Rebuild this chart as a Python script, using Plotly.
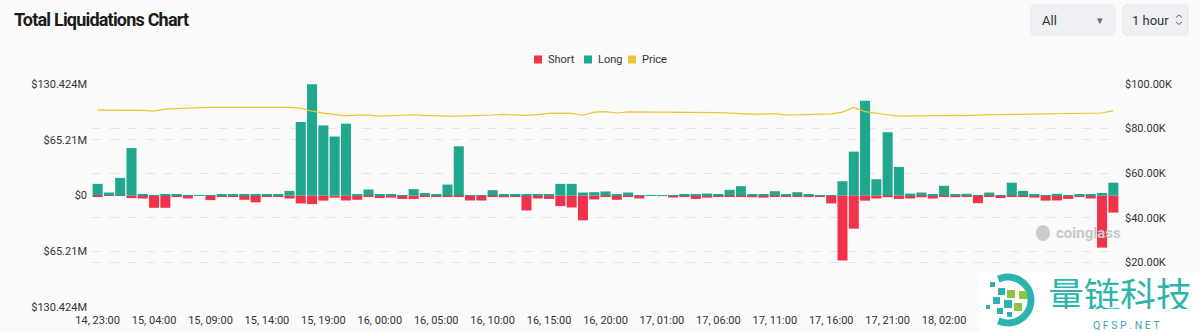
import math
import pandas as pd
import plotly.graph_objects as go

# ---------------- data ----------------
hours = [t.strftime("%Y-%m-%d %H:%M") for t in pd.date_range("2024-11-14 23:00", periods=91, freq="h")]

long_vals = [13.6, 3.5, 20.6, 55.5, 1.0, 0.3, 1.6, 1.5, 0.5, 0.5,
             0.3, 1.0, 1.0, 1.0, 1.5, 1.5, 1.5, 5.4, 86.0, 130.0,
             82.0, 69.0, 84.0, 1.6, 7.0, 1.2, 1.6, 0.5, 7.4, 3.0,
             1.0, 12.8, 57.5, 0.3, 0.3, 6.2, 1.0, 0.8, 1.0, 1.0,
             1.5, 13.6, 13.6, 3.5, 3.9, 4.7, 1.0, 3.5, 0.5, 0.5,
             0.5, 0.3, 1.6, 1.0, 2.3, 1.5, 6.6, 10.9, 1.0, 1.5,
             5.0, 1.6, 3.9, 0.8, 0.3, 0.2, 16.7, 51.3, 110.7, 19.0,
             74.0, 33.4, 2.3, 3.5, 1.6, 11.3, 0.6, 2.0, 0.3, 3.5,
             0.5, 15.0, 5.4, 1.0, 0.5, 2.0, 0.3, 1.0, 1.6, 3.0,
             15.0]

short_vals = [1.0, 0.5, 0.5, 3.0, 3.5, 14.4, 14.4, 1.5, 3.5, 0.5,
              5.4, 1.5, 1.5, 5.0, 8.0, 1.0, 1.0, 3.5, 9.3, 10.0,
              6.0, 2.5, 5.8, 5.0, 1.5, 3.0, 2.5, 4.0, 4.0, 1.5,
              1.5, 1.5, 1.5, 5.8, 5.8, 1.5, 2.0, 0.8, 17.5, 3.5,
              4.0, 12.4, 14.0, 29.0, 4.6, 1.5, 5.0, 1.5, 3.5, 0.5,
              0.5, 2.3, 1.5, 4.0, 2.5, 1.5, 1.5, 1.5, 2.0, 2.5,
              1.5, 1.5, 1.5, 1.5, 0.8, 9.3, 76.0, 38.8, 6.0, 3.5,
              2.0, 4.0, 3.5, 2.0, 3.5, 1.5, 2.0, 1.5, 9.0, 1.5,
              3.0, 1.5, 1.5, 2.5, 6.0, 5.8, 4.0, 1.5, 3.5, 61.0,
              20.0]

price_vals = [88.3, 88.3, 88.3, 88.3, 88.2, 87.8, 88.7, 89.0, 89.3, 89.4,
              89.5, 89.5, 89.6, 89.6, 89.5, 89.5, 89.5, 89.5, 89.2, 87.8,
              86.9, 86.2, 85.7, 86.0, 86.1, 85.6, 85.9, 86.0, 86.2, 85.9,
              85.6, 85.6, 85.6, 85.7, 85.8, 86.1, 86.4, 86.2, 85.9, 86.3,
              86.8, 86.9, 86.8, 86.0, 87.4, 87.6, 87.0, 87.5, 87.5, 87.4,
              87.4, 87.3, 87.3, 87.2, 87.2, 87.2, 86.9, 86.6, 86.5, 86.5,
              86.7, 86.1, 86.1, 86.3, 86.5, 86.6, 87.4, 89.5, 87.6, 86.8,
              86.2, 85.6, 85.7, 85.7, 85.8, 85.9, 85.9, 85.8, 86.1, 86.3,
              86.3, 86.4, 86.5, 86.5, 86.6, 86.7, 86.9, 86.9, 86.9, 87.0,
              88.1]

# tick labels visible in the reference (later ones are hidden under the watermark)
tick_labels = ["14, 23:00", "15, 04:00", "15, 09:00", "15, 14:00", "15, 19:00",
               "16, 00:00", "16, 05:00", "16, 10:00", "16, 15:00", "16, 20:00",
               "17, 01:00", "17, 06:00", "17, 11:00", "17, 16:00", "17, 21:00",
               "18, 02:00"]

left_tickvals = [-130.424, -65.21, 0, 65.21, 130.424]
left_ticktext = ["$130.424M", "$65.21M", "$0", "$65.21M", "$130.424M"]
right_tickvals = [20, 40, 60, 80, 100]
right_ticktext = ["$20.00K", "$40.00K", "$60.00K", "$80.00K", "$100.00K"]

C_SHORT = "#f0334a"
C_LONG = "#1fa88e"
C_PRICE = "#ecc534"

# ---------------- figure ----------------
fig = go.Figure()
fig.add_trace(go.Bar(x=hours, y=[-v for v in short_vals], name="Short",
                     marker=dict(color=C_SHORT, line=dict(width=0)), showlegend=False))
fig.add_trace(go.Bar(x=hours, y=long_vals, name="Long",
                     marker=dict(color=C_LONG, line=dict(width=0)), showlegend=False))
fig.add_trace(go.Scatter(x=hours, y=price_vals, name="Price", yaxis="y2", mode="lines",
                         line=dict(color=C_PRICE, width=1.2), showlegend=False))

L, R, T, B = 92, 1119, 84, 307
def px(X):
    return (X - L) / (R - L)
def py(Y):
    return (B - Y) / (B - T)

annotations = []
shapes = []

def text(s, X, Y, size, color, xanchor="left", family="Roboto", height=None):
    a = dict(text=s, x=px(X), y=py(Y), xref="paper", yref="paper",
             xanchor=xanchor, yanchor="middle", showarrow=False, borderpad=0,
             font=dict(size=size, color=color, family=family))
    if height:
        a["height"] = height
    annotations.append(a)

def rrect(x0, y0, x1, y1, r, fill, line):
    pts = []
    for cx, cy, a0 in [(x1 - r, y0 + r, -90), (x1 - r, y1 - r, 0), (x0 + r, y1 - r, 90), (x0 + r, y0 + r, 180)]:
        for k in range(7):
            a = math.radians(a0 + k * 15)
            pts.append((cx + r * math.cos(a), cy + r * math.sin(a)))
    p = "M " + " L ".join(f"{px(a):.5f},{py(b):.5f}" for a, b in pts) + " Z"
    shapes.append(dict(type="path", path=p, xref="paper", yref="paper",
                       fillcolor=fill, line=dict(color=line, width=1), layer="above"))

# title
text('<b><span style="letter-spacing:-0.8px">Total Liquidations Chart</span></b>', 13, 19, 18, "#1b1b1b")

# dropdowns
rrect(1031, 5, 1115, 35, 4, "#eef0f4", "#e2e5ea")
rrect(1123, 5, 1188, 35, 4, "#eef0f4", "#e2e5ea")
text("All", 1041, 20, 13, "#333333")
text("▾", 1100, 20, 11, "#666666", xanchor="center")
text("1 hour", 1131, 20, 13, "#333333")
for ys in [(17.5, 15), (22, 24.5)]:
    p = f"M {px(1176):.5f},{py(ys[0]):.5f} L {px(1179):.5f},{py(ys[1]):.5f} L {px(1182):.5f},{py(ys[0]):.5f}"
    shapes.append(dict(type="path", path=p, xref="paper", yref="paper",
                       line=dict(color="#666666", width=1), layer="above"))

# manual legend
for name, color, sx in [("Short", C_SHORT, 534), ("Long", C_LONG, 584), ("Price", C_PRICE, 628)]:
    shapes.append(dict(type="rect", xref="paper", yref="paper", x0=px(sx), x1=px(sx + 8),
                       y0=py(63.5), y1=py(55.5), fillcolor=color, line=dict(width=0), layer="above"))
    text(name, sx + 13, 59.5, 11, "#333333")

# coinglass watermark
shapes.append(dict(type="circle", xref="paper", yref="paper", x0=px(1036), x1=px(1050),
                   y0=py(241), y1=py(225), fillcolor="#cccccc", line=dict(width=0), layer="above"))
text("<b>coinglass</b>", 1055, 233, 15, "#c8c8c8")

# QFSP watermark block
shapes.append(dict(type="rect", xref="paper", yref="paper", x0=px(980), x1=px(1200),
                   y0=py(332), y1=py(272), fillcolor="#ffffff", line=dict(width=0), layer="above"))
arc = []
for k in range(0, 25):
    a = math.radians(-115 + k * 230 / 24)
    arc.append((1008 + 23 * math.cos(a), 300 + 23 * math.sin(a)))
p = "M " + " L ".join(f"{px(a):.5f},{py(b):.5f}" for a, b in arc)
shapes.append(dict(type="path", path=p, xref="paper", yref="paper",
                   line=dict(color="#2cb3ae", width=7), layer="above"))
for (sx, sy, s, c) in [(990, 282, 5, "#2cb3ae"), (998, 288, 7, "#2cb3ae"), (1007, 290, 8, "#8cc63f"),
                       (1019, 291, 8, "#8cc63f"), (993, 297, 7, "#2cb3ae"), (1004, 300, 8, "#2cb3ae"),
                       (1014, 303, 8, "#8cc63f"), (986, 305, 4, "#2cb3ae"), (997, 308, 6, "#2cb3ae"),
                       (1007, 312, 5, "#2cb3ae")]:
    shapes.append(dict(type="rect", xref="paper", yref="paper", x0=px(sx), x1=px(sx + s),
                       y0=py(sy + s), y1=py(sy), fillcolor=c, line=dict(width=0), layer="above"))
text("量链科技", 1120, 293, 36, "#2fb3ad", xanchor="center", family="Noto Sans CJK SC", height=32)
text("Q F S P . N E T", 1126, 325, 10.5, "#3aa3b3", xanchor="center", height=10)

fig.update_layout(
    width=1200, height=332,
    margin=dict(l=L, r=1200 - R, t=T, b=332 - B, pad=0, autoexpand=False),
    paper_bgcolor="#fafafa", plot_bgcolor="#fafafa",
    barmode="relative", bargap=0.11,
    showlegend=False,
    font=dict(family="Roboto", size=11, color="#333333"),
    xaxis=dict(type="category", tickmode="array", tickvals=hours[::5][:len(tick_labels)],
               ticktext=tick_labels, showgrid=False, zeroline=False, showline=False, ticks="",
               automargin=False, ticklabelstandoff=5, tickfont=dict(size=11, color="#333333"),
               range=[-0.5, 90.5]),
    yaxis=dict(range=[-130.424, 130.424], tickmode="array", tickvals=left_tickvals,
               ticktext=left_ticktext, showgrid=True, gridcolor="#e4e4e4", griddash="dash",
               zeroline=False, showline=False, ticks="", ticklabelstandoff=4, automargin=False,
               tickfont=dict(size=11, color="#333333")),
    yaxis2=dict(range=[0, 100], overlaying="y", side="right", tickmode="array",
                tickvals=right_tickvals, ticktext=right_ticktext, showgrid=True,
                gridcolor="#e4e4e4", griddash="dash", zeroline=False, showline=False,
                ticks="", ticklabelstandoff=5, automargin=False,
                tickfont=dict(size=11, color="#333333")),
    annotations=annotations,
    shapes=shapes,
    hovermode="x",
)

fig.write_html("out.html")
